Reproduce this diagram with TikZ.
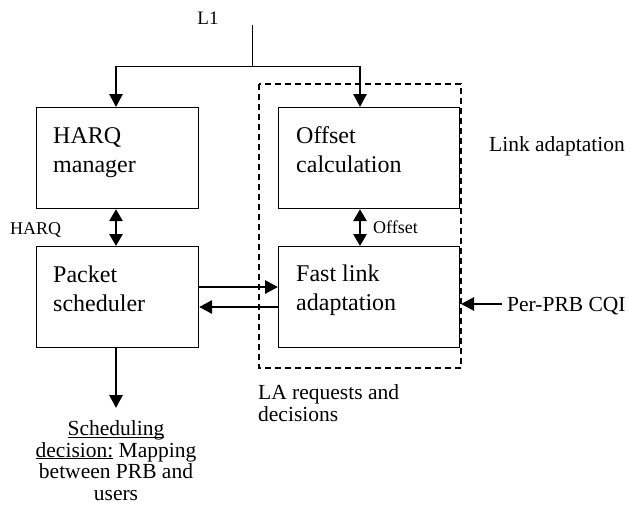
\documentclass[tikz,border=0pt]{standalone}
\usepackage{fontspec}
\setmainfont{Liberation Serif}
\usetikzlibrary{arrows.meta,calc}
\newcommand\myul[1]{$\underline{\smash{\hbox{#1}}}$}
\tikzset{
  box/.style={draw, line width=1.1pt, minimum width=162pt, minimum height=101pt, inner sep=0pt, anchor=north west},
  boxtext/.style={anchor=base west, align=left, inner sep=0pt, font=\fontsize{24}{29.5}\selectfont},
  lbl/.style={inner sep=0pt, font=\fontsize{21.5}{21.5}\selectfont},
  small/.style={inner sep=0pt, font=\fontsize{18}{18}\selectfont},
  arr/.style={line width=2.8pt, -{Triangle[length=13pt,width=13pt]}},
  darr/.style={line width=2.8pt, {Triangle[length=12pt,width=13pt]}-{Triangle[length=12pt,width=13pt]}},
  thin line/.style={line width=1pt},
  dashbox/.style={draw, line width=2pt, dash pattern=on 6pt off 4pt}
}
\begin{document}
\begin{tikzpicture}[x=1pt,y=-1pt]
\useasboundingbox (0,0) rectangle (629,504);
% dashed container
\draw[dashbox] (259,84) rectangle (461,368);
% boxes
\node[box] (harq) at (36,107) {};
\node[box] (ps) at (36,246) {};
\node[box, minimum width=181pt] (off) at (278,107) {};
\node[box, minimum width=181pt] (fla) at (278,246) {};
\node[boxtext] (harqt) at (53,172.5) {HARQ\\manager};
\node[boxtext] (pst) at (53,311.5) {Packet\\scheduler};
\node[boxtext] (offt) at (296,172.5) {Offset\\calculation};
\node[boxtext] (flat) at (296,310.5) {Fast link\\adaptation};
% L1
\node[inner sep=0pt, anchor=base, font=\fontsize{19}{19}\selectfont] (l1) at (208,24) {L1};
\coordinate (l1top) at (252,25);
\coordinate (l1mid) at (252,66);
\coordinate (lh) at (116,66);
\coordinate (rh) at (360,66);
\draw[thin line] (l1top) -- (l1mid);
\draw[thin line] (lh) -- (rh);
\draw[arr] (lh) -- (lh |- harq.north);
\draw[arr] (rh) -- (rh |- off.north);
% HARQ link
\draw[darr] (harq.south -| lh) -- (ps.north -| lh);
\node[small, anchor=base west] (harql) at (10,234) {HARQ};
% Offset link
\draw[darr] (off.south -| rh) -- (fla.north -| rh);
\node[small, anchor=base west] (offl) at (373,233) {Offset};
% scheduler <-> fast link
\draw[arr] ([yshift=-287pt+246pt]ps.north east) -- ([yshift=-287pt+246pt]fla.north west);
\draw[arr] ([yshift=-307pt+246pt]fla.north west) -- ([yshift=-307pt+246pt]ps.north east);
% per-PRB CQI
\node[lbl, anchor=base west] (cqi) at (507,311) {Per-PRB CQI};
\coordinate (cqis) at (502,304);
\coordinate (cqie) at (461,304);
\draw[arr] (cqis) -- (cqie);
% labels
\node[lbl, anchor=base west] (la) at (489,151) {Link adaptation};
\node[lbl, anchor=base west, align=left] (req) at (258,421) {LA requests and\\decisions};
% scheduling decision
\coordinate (sd) at (116,408);
\draw[arr] (ps.south -| lh) -- (sd);
\node[lbl, anchor=base, align=center] (sdt) at (116,500) {\myul{Scheduling}\\\myul{decision:} Mapping\\between PRB and\\users};
\end{tikzpicture}
\end{document}
